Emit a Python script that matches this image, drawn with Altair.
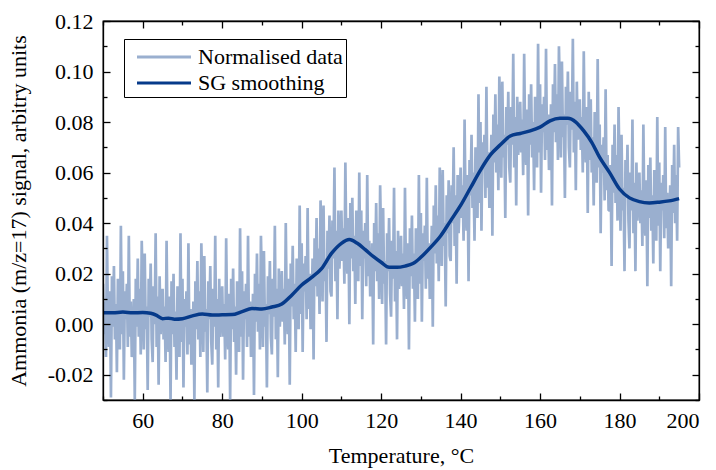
import altair as alt
import pandas as pd

# ---------------- data ----------------
# raw (noisy) signal, one value every 0.25 degC from 50 to 195 degC
NOISE_T0 = 50.0
NOISE_DT = 0.25
noise = [
    # 50
    0.016, -0.004, 0.009, -0.013, 0.035, 0.000, -0.009, 0.013, -0.029, 0.019,
    -0.001, 0.023, -0.006, 0.008, -0.019, 0.018, 0.012, -0.010, 0.039, -0.004,
    # 55
    0.021, -0.022, 0.013, 0.002, 0.016, -0.009, 0.035, -0.005, 0.009, -0.013,
    -0.008, 0.010, -0.030, 0.018, -0.001, 0.026, -0.005, 0.014, -0.012, 0.033,
    # 60
    0.014, -0.010, 0.028, -0.002, 0.007, -0.026, 0.018, 0.003, 0.024, -0.006,
    -0.015, 0.015, 0.000, 0.036, -0.009, 0.011, -0.024, 0.019, -0.004, 0.007,
    # 65
    0.014, -0.006, 0.007, -0.015, 0.033, -0.002, -0.011, 0.011, -0.031, 0.017,
    -0.004, 0.020, -0.009, 0.005, -0.022, 0.015, 0.009, -0.013, 0.036, -0.007,
    # 70
    0.018, -0.025, 0.010, -0.001, 0.013, -0.012, 0.032, -0.008, 0.006, -0.016,
    -0.009, 0.009, -0.031, 0.017, -0.002, 0.025, -0.006, 0.013, -0.013, 0.032,
    # 75
    0.013, -0.011, 0.027, -0.003, 0.006, -0.027, 0.017, 0.002, 0.023, -0.007,
    -0.016, 0.014, -0.001, 0.035, -0.010, 0.010, -0.025, 0.018, -0.005, 0.006,
    # 80
    0.015, -0.005, 0.008, -0.014, 0.034, -0.001, -0.010, 0.012, -0.030, 0.018,
    -0.002, 0.022, -0.007, 0.007, -0.020, 0.017, 0.011, -0.011, 0.038, -0.005,
    # 85
    0.021, -0.022, 0.013, 0.002, 0.016, -0.009, 0.035, -0.005, 0.009, -0.013,
    -0.006, 0.012, -0.028, 0.020, 0.001, 0.028, -0.003, 0.016, -0.010, 0.035,
    # 90
    0.015, -0.009, 0.029, -0.001, 0.008, -0.025, 0.019, 0.004, 0.025, -0.005,
    -0.012, 0.018, 0.003, 0.039, -0.006, 0.014, -0.021, 0.022, -0.001, 0.010,
    # 95
    0.021, 0.001, 0.014, -0.008, 0.040, 0.005, -0.004, 0.018, -0.024, 0.024,
    0.007, 0.031, 0.002, 0.016, -0.011, 0.026, 0.020, -0.002, 0.047, 0.004,
    # 100
    0.032, -0.011, 0.024, 0.013, 0.027, 0.002, 0.046, 0.006, 0.020, -0.002,
    0.008, 0.026, -0.014, 0.034, 0.015, 0.042, 0.011, 0.030, 0.004, 0.049,
    # 105
    0.033, 0.009, 0.047, 0.017, 0.026, -0.007, 0.037, 0.022, 0.043, 0.013,
    0.011, 0.041, 0.026, 0.062, 0.017, 0.037, 0.002, 0.045, 0.022, 0.033,
    # 110
    0.045, 0.025, 0.038, 0.016, 0.064, 0.029, 0.020, 0.042, 0.000, 0.048,
    0.026, 0.050, 0.021, 0.035, 0.008, 0.045, 0.039, 0.017, 0.060, 0.023,
    # 115
    0.045, 0.002, 0.037, 0.026, 0.040, 0.015, 0.059, 0.019, 0.033, 0.011,
    0.014, 0.032, -0.008, 0.040, 0.021, 0.048, 0.017, 0.036, 0.010, 0.055,
    # 120
    0.032, 0.008, 0.046, 0.016, 0.025, -0.008, 0.036, 0.021, 0.042, 0.012,
    0.003, 0.033, 0.018, 0.054, 0.009, 0.029, -0.006, 0.037, 0.014, 0.025,
    # 125
    0.035, 0.015, 0.028, 0.006, 0.054, 0.019, 0.010, 0.032, -0.010, 0.038,
    0.019, 0.043, 0.014, 0.028, 0.001, 0.038, 0.032, 0.010, 0.059, 0.016,
    # 130
    0.044, 0.001, 0.036, 0.025, 0.039, 0.014, 0.058, 0.018, 0.032, 0.010,
    0.021, 0.039, -0.001, 0.047, 0.028, 0.055, 0.024, 0.043, 0.017, 0.062,
    # 135
    0.047, 0.023, 0.061, 0.031, 0.040, 0.007, 0.051, 0.036, 0.057, 0.027,
    0.025, 0.055, 0.040, 0.070, 0.031, 0.051, 0.016, 0.059, 0.036, 0.047,
    # 140
    0.062, 0.042, 0.055, 0.033, 0.081, 0.046, 0.037, 0.059, 0.017, 0.065,
    0.051, 0.075, 0.046, 0.060, 0.033, 0.070, 0.064, 0.042, 0.091, 0.048,
    # 145
    0.080, 0.037, 0.072, 0.061, 0.075, 0.050, 0.094, 0.054, 0.068, 0.046,
    0.057, 0.075, 0.035, 0.083, 0.064, 0.091, 0.060, 0.079, 0.053, 0.098,
    # 150
    0.082, 0.058, 0.096, 0.066, 0.075, 0.042, 0.086, 0.071, 0.092, 0.062,
    0.056, 0.086, 0.071, 0.107, 0.062, 0.082, 0.047, 0.090, 0.067, 0.078,
    # 155
    0.088, 0.068, 0.081, 0.059, 0.107, 0.072, 0.063, 0.085, 0.043, 0.091,
    0.071, 0.095, 0.066, 0.080, 0.053, 0.090, 0.084, 0.062, 0.111, 0.068,
    # 160
    0.095, 0.052, 0.087, 0.076, 0.090, 0.065, 0.109, 0.069, 0.083, 0.061,
    0.069, 0.087, 0.047, 0.095, 0.076, 0.103, 0.072, 0.091, 0.065, 0.110,
    # 165
    0.090, 0.066, 0.104, 0.074, 0.083, 0.050, 0.094, 0.079, 0.100, 0.070,
    0.062, 0.092, 0.077, 0.113, 0.068, 0.088, 0.053, 0.096, 0.073, 0.084,
    # 170
    0.089, 0.069, 0.082, 0.060, 0.108, 0.073, 0.064, 0.086, 0.044, 0.092,
    0.065, 0.089, 0.060, 0.074, 0.047, 0.084, 0.078, 0.056, 0.105, 0.062,
    # 175
    0.079, 0.036, 0.071, 0.060, 0.074, 0.049, 0.093, 0.053, 0.067, 0.045,
    0.045, 0.063, 0.023, 0.071, 0.052, 0.079, 0.048, 0.067, 0.041, 0.086,
    # 180
    0.061, 0.037, 0.075, 0.045, 0.054, 0.021, 0.065, 0.050, 0.071, 0.041,
    0.030, 0.060, 0.045, 0.081, 0.036, 0.056, 0.021, 0.064, 0.041, 0.052,
    # 185
    0.060, 0.040, 0.053, 0.031, 0.079, 0.044, 0.035, 0.057, 0.015, 0.063,
    0.042, 0.066, 0.037, 0.051, 0.024, 0.061, 0.055, 0.033, 0.082, 0.039,
    # 190
    0.064, 0.021, 0.056, 0.045, 0.059, 0.034, 0.078, 0.038, 0.052, 0.030,
    0.037, 0.055, 0.015, 0.063, 0.044, 0.071, 0.040, 0.059, 0.033, 0.078,
    # 195
    0.062,
]
noise_t = [NOISE_T0 + NOISE_DT * i for i in range(len(noise))]

# Savitzky-Golay smoothed curve
smooth_t = [50, 52.5, 55, 57.5, 60, 62, 63.5, 65, 66.5, 68, 70, 72.5, 75, 77.5,
            80, 82.5, 85, 87.5, 90, 92.5, 95, 97.5, 100, 102.5, 105, 107.5,
            110, 112, 114, 116, 118, 120, 122, 124, 126, 128, 130, 132.5, 135,
            137.5, 140, 142.5, 145, 147.5, 150, 152.5, 155, 157.5, 160, 162.5,
            165, 167, 169, 171, 173, 175, 177.5, 180, 182.5, 185, 187.5, 190,
            192.5, 195]
smooth_v = [0.0045, 0.0045, 0.0048, 0.0045, 0.0046, 0.0043, 0.0035, 0.0022,
            0.0024, 0.0020, 0.0022, 0.0033, 0.0040, 0.0036, 0.0037, 0.0038,
            0.0050, 0.0062, 0.0060, 0.0068, 0.0080, 0.0115, 0.0155, 0.0185,
            0.0220, 0.0280, 0.0320, 0.0335, 0.0320, 0.0295, 0.0268, 0.0245,
            0.0225, 0.0225, 0.0230, 0.0240, 0.0265, 0.0305, 0.0350, 0.0410,
            0.0470, 0.0540, 0.0610, 0.0670, 0.0710, 0.0745, 0.0755, 0.0765,
            0.0780, 0.0805, 0.0815, 0.0815, 0.0800, 0.0765, 0.0720, 0.0660,
            0.0600, 0.0535, 0.0500, 0.0485, 0.0480, 0.0483, 0.0488, 0.0497]

series_names = ["Normalised data", "SG smoothing"]
series_colors = ["#9aafcf", "#063a8a"]

x_major = [60, 80, 100, 120, 140, 160, 180, 200]
x_minor = [50, 70, 90, 110, 130, 150, 170, 190]
y_major = [-0.02, 0.0, 0.02, 0.04, 0.06, 0.08, 0.10, 0.12]
y_minor = [-0.03, -0.01, 0.01, 0.03, 0.05, 0.07, 0.09, 0.11]

x_title = "Temperature, °C"
y_title = "Ammonia (m/z=17) signal, arbitry units"

# ---------------- chart ----------------
W, H = 596, 379
FONT = "Liberation Serif"
FS = 22

noise_df = pd.DataFrame({"T": noise_t, "v": noise, "series": series_names[0]})
smooth_df = pd.DataFrame({"T": smooth_t, "v": smooth_v, "series": series_names[1]})

xscale = alt.Scale(domain=[50, 200], nice=False, zero=False)
yscale = alt.Scale(domain=[-0.03, 0.12], nice=False, zero=False)
cscale = alt.Scale(domain=series_names, range=series_colors)

legend = alt.Legend(
    orient="none", legendX=21, legendY=18, title=None,
    symbolType="M-2,0H2", symbolSize=27 * 27, symbolStrokeWidth=3,
    symbolOffset=22, labelOffset=19,
    labelFont=FONT, labelFontSize=FS, labelColor="black",
    strokeColor="black", fillColor="white", padding=3, rowPadding=-1,
)

label_x_axis = alt.Axis(
    orient="bottom", values=x_major, format="d", ticks=False, grid=False,
    domain=True, domainColor="black", domainWidth=1.3,
    labelFont=FONT, labelFontSize=FS, labelColor="black", labelPadding=10,
    title=x_title, titleFont=FONT, titleFontSize=FS, titleFontWeight="normal",
    titleColor="black", titlePadding=14, zindex=1,
)
label_y_axis = alt.Axis(
    orient="left", values=y_major, ticks=False, grid=False,
    labelExpr="datum.value < 0 ? '-' + format(abs(datum.value), '.2f') : format(datum.value, '.2f')",
    domain=True, domainColor="black", domainWidth=1.3,
    labelFont=FONT, labelFontSize=FS, labelColor="black", labelPadding=10,
    title=y_title, titleFont=FONT, titleFontSize=FS, titleFontWeight="normal",
    titleColor="black", titlePadding=17, zindex=1,
)

noise_layer = alt.Chart(noise_df).mark_line(
    strokeWidth=2.7, strokeJoin="bevel", clip=True
).encode(
    x=alt.X("T:Q", scale=xscale, axis=label_x_axis),
    y=alt.Y("v:Q", scale=yscale, axis=label_y_axis),
    color=alt.Color("series:N", scale=cscale, legend=legend),
)


def tick_axis(orient, offset, values, size, domain=False):
    return alt.Axis(
        orient=orient, offset=offset, values=values, labels=False, title=None,
        grid=False, ticks=True, tickSize=size, tickWidth=1.3, tickColor="black",
        domain=domain, domainColor="black", domainWidth=1.3, zindex=1,
    )


smooth_layer = alt.Chart(smooth_df).mark_line(
    strokeWidth=3.5, clip=True, interpolate="monotone"
).encode(
    x=alt.X("T:Q", scale=xscale, axis=tick_axis("top", -H, x_major, 7)),
    y=alt.Y("v:Q", scale=yscale, axis=tick_axis("right", -W, y_major, 7)),
    color=alt.Color("series:N", scale=cscale, legend=legend),
)


def hidden_layer(xa, ya):
    return alt.Chart(smooth_df).mark_line(opacity=0).encode(
        x=alt.X("T:Q", scale=xscale, axis=xa),
        y=alt.Y("v:Q", scale=yscale, axis=ya),
    )


layers = [
    noise_layer,
    smooth_layer,
    hidden_layer(tick_axis("top", -H, x_minor, 4), tick_axis("right", -W, y_minor, 4)),
    hidden_layer(tick_axis("bottom", -H, x_major, 7, domain=True), tick_axis("left", -W, y_major, 7, domain=True)),
    hidden_layer(tick_axis("bottom", -H, x_minor, 4), tick_axis("left", -W, y_minor, 4)),
]

chart = alt.layer(*layers).resolve_axis(x="independent", y="independent").properties(
    width=W, height=H, autosize="none",
    padding={"left": 103, "top": 21, "right": 17, "bottom": 70},
    background="white",
).configure(font=FONT).configure_view(
    stroke="black", strokeWidth=1.3
).configure_axis(labelFont=FONT, titleFont=FONT).configure_legend(labelFont=FONT)

chart.save("out.html", embed_options={"renderer": "svg", "actions": False})
